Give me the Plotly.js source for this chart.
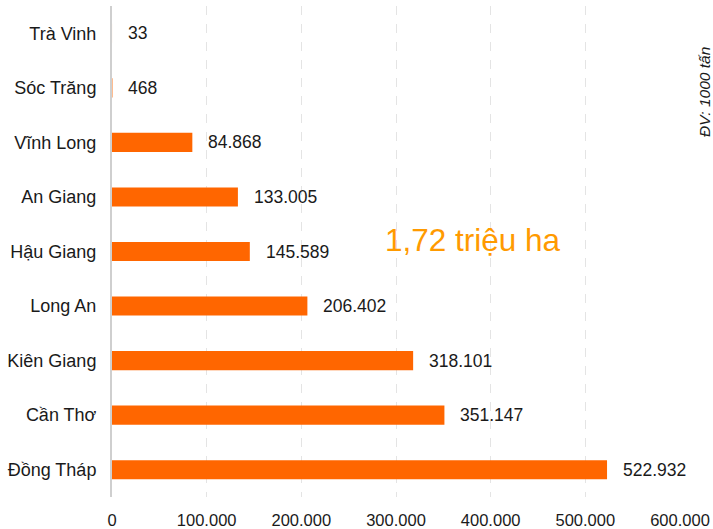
<!DOCTYPE html>
<html><head><meta charset="utf-8">
<script src="https://cdn.plot.ly/plotly-3.0.1.min.js"></script>
<style>html,body{margin:0;padding:0;background:#fff}#c{width:713px;height:529px}</style>
</head><body><div id="c"></div>
<script>
const provinces = ["Đồng Tháp","Cần Thơ","Kiên Giang","Long An","Hậu Giang","An Giang","Vĩnh Long","Sóc Trăng","Trà Vinh"];
const values = [522932, 351147, 318101, 206402, 145589, 133005, 84868, 468, 33];
const tickVals = [0,100000,200000,300000,400000,500000,600000];
const noteText = "1,72 triệu ha";
const unitText = "ĐV: 1000 tấn";

const fmt = v => v.toString().replace(/\B(?=(\d{3})+(?!\d))/g, ".");
const FF = 'Liberation Sans, Arial, sans-serif';

const annotations = provinces.map((p,i)=>({
  x: values[i], y: p, xref:'x', yref:'y', text: fmt(values[i]),
  showarrow:false, xanchor:'left', xshift:14,
  font:{family:FF, size:17.5, color:'#1a1a1a'}
}));
annotations.push({
  xref:'paper', yref:'paper', x:0.635, y:0.523, xanchor:'center', yanchor:'middle',
  text: noteText, showarrow:false,
  font:{family:FF, size:31.5, color:'#FF9A00'}
});
annotations.push({
  xref:'paper', yref:'paper', x:1.044, y:0.825, xanchor:'center', yanchor:'middle',
  text: unitText, showarrow:false, textangle:-90,
  font:{family:FF, size:15.5, color:'#1a1a1a', style:'italic'}
});

Plotly.newPlot('c', [{
  type:'bar', orientation:'h', x: values, y: provinces,
  marker:{color:'#FF6600'}, hoverinfo:'none'
}], {
  width:713, height:529,
  margin:{l:112, r:33, t:6, b:32},
  separators:',.',
  bargap:0.65,
  showlegend:false,
  paper_bgcolor:'#fff', plot_bgcolor:'#fff',
  font:{family:FF, size:16, color:'#1a1a1a'},
  xaxis:{range:[0,600000], tickvals:tickVals, tickformat:',d', showgrid:true,
    gridcolor:'#e4e4e4', griddash:'dash', gridwidth:1, zeroline:false, showline:false,
    ticks:'', ticklabelstandoff:11, tickfont:{size:16.5}, fixedrange:true},
  yaxis:{showline:true, linecolor:'#cfcfcf', linewidth:2, ticks:'', ticklabelstandoff:10,
    tickfont:{size:18}, showgrid:false, automargin:false},
  annotations: annotations
}, {staticPlot:true});
</script></body></html>
